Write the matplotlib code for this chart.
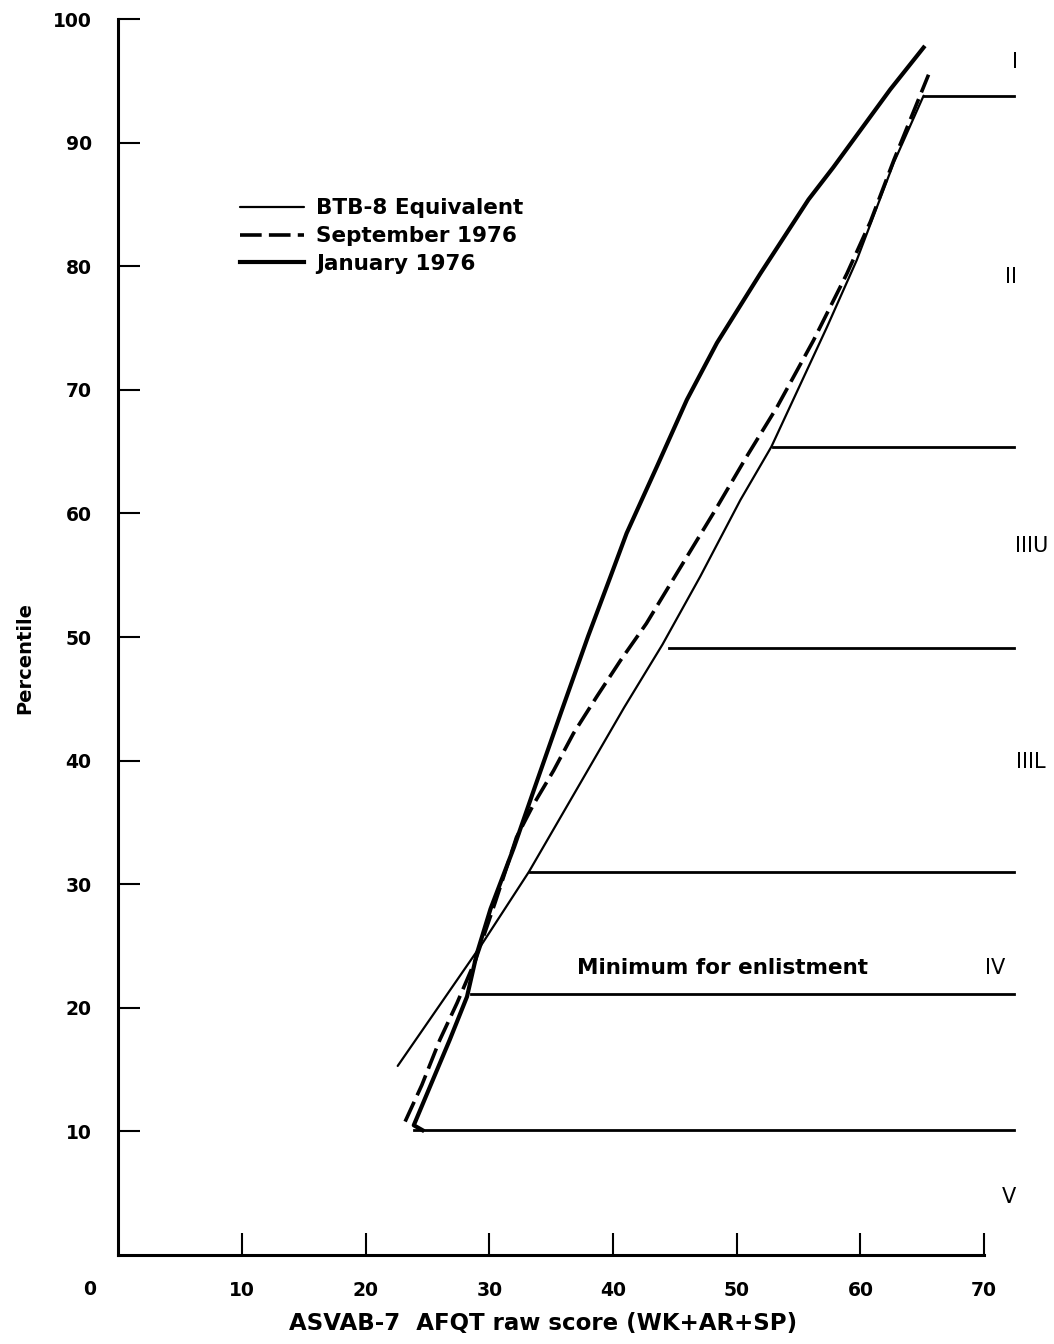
import numpy as np
import matplotlib
matplotlib.use("Agg")
import matplotlib.pyplot as plt

plt.rcParams['font.family'] = ['DejaVu Sans']

# curves (raw score, percentile)
btb_x = [22.6, 29.5, 33.2, 37.6, 40.9, 44.0, 47.05, 50.3, 52.8, 57.3, 59.7, 62.7, 65.1]
btb_y = [15.3, 25.3, 31.0, 38.6, 44.3, 49.4, 54.9, 61.1, 65.4, 75.1, 80.5, 88.4, 93.8]

sep_x = [23.2, 24.55, 26.0, 27.4, 28.9, 30.5, 32.2, 33.6, 35.2, 36.8, 38.7, 40.6, 42.7,
         45.0, 48.1, 50.8, 53.25, 56.2, 58.9, 60.8, 62.7, 65.5]
sep_y = [10.8, 13.75, 17.4, 20.4, 23.9, 28.6, 33.8, 36.5, 39.2, 42.2, 45.2, 48.1, 51.1,
         54.9, 60.0, 64.6, 68.6, 74.0, 79.4, 83.6, 88.6, 95.5]

jan_x = [24.6, 23.9, 25.2, 26.8, 28.2, 29.0, 30.1, 32.0, 33.7, 35.8, 38.0, 39.8, 41.1,
         43.55, 45.97, 48.4, 51.9, 55.8, 57.8, 62.4, 65.1]
jan_y = [10.1, 10.5, 13.6, 17.4, 20.9, 24.4, 28.0, 33.0, 37.9, 43.9, 50.1, 54.9, 58.4,
         63.8, 69.2, 73.8, 79.4, 85.4, 88.0, 94.3, 97.7]

# category boundaries: percentile and where the line starts
bound_y = [10.1, 21.1, 31.0, 49.1, 65.4, 93.8]
bound_x0 = [23.9, 28.5, 33.3, 44.5, 52.9, 65.1]
bound_x1 = 72.4

cat_names = ['I', 'II', 'IIIU', 'IIIL', 'IV', 'V']
cat_x = [72.5, 72.2, 73.8, 73.8, 70.9, 72.0]
cat_y = [96.5, 79.1, 57.4, 39.9, 23.2, 4.7]

xticks = [10, 20, 30, 40, 50, 60, 70]
yticks = [10, 20, 30, 40, 50, 60, 70, 80, 90, 100]

fig = plt.figure(figsize=(10.54, 13.44), dpi=100)
ax = fig.add_axes([0.112, 0.0662, 0.8805, 0.9196])

l1, = ax.plot(btb_x, btb_y, color='black', lw=1.6, solid_capstyle='round')
l2, = ax.plot(sep_x, sep_y, color='black', lw=2.6, dashes=(6, 2))
l3, = ax.plot(jan_x, jan_y, color='black', lw=3.0, solid_joinstyle='round')

for yy, xx in zip(bound_y, bound_x0):
    ax.plot([xx, bound_x1], [yy, yy], color='black', lw=2.0)

for name, xx, yy in zip(cat_names, cat_x, cat_y):
    ax.text(xx, yy, name, ha='center', va='center', fontsize=15, clip_on=False)

ax.text(37.1, 23.2, 'Minimum for enlistment', ha='left', va='center',
        fontsize=15.5, fontweight='semibold')

ax.legend([l1, l2, l3], ['BTB-8 Equivalent', 'September 1976', 'January 1976'],
          loc='upper left', bbox_to_anchor=(0.131, 0.855), frameon=False,
          borderpad=0, borderaxespad=0, handlelength=3.0, handletextpad=0.55,
          labelspacing=0.36, prop={'size': 15.5, 'weight': 'bold'})

ax.set_xlim(0, 75)
ax.set_ylim(0, 100)
ax.spines['top'].set_visible(False)
ax.spines['right'].set_visible(False)
ax.spines['bottom'].set_bounds(0, 70)
ax.spines['left'].set_bounds(0, 100)
for s in ['bottom', 'left']:
    ax.spines[s].set_linewidth(2.2)

ax.set_xticks(xticks)
ax.set_yticks(yticks)
ax.tick_params(direction='in', length=16, width=1.5, pad=19, labelsize=13.5)
for lab in ax.get_xticklabels() + ax.get_yticklabels():
    lab.set_fontweight('bold')

ax.text(-2.3, -2.8, '0', ha='center', va='center', fontsize=13.5,
        fontweight='bold', clip_on=False)

ax.set_xlabel('ASVAB-7  AFQT raw score (WK+AR+SP)', fontsize=16.5, fontweight='bold')
ax.xaxis.set_label_coords(0.458, -0.046)
ax.set_ylabel('Percentile', fontsize=14, fontweight='bold', va='center')
ax.yaxis.set_label_coords(-0.100, 0.483)

fig.savefig('out.png', dpi=100)
